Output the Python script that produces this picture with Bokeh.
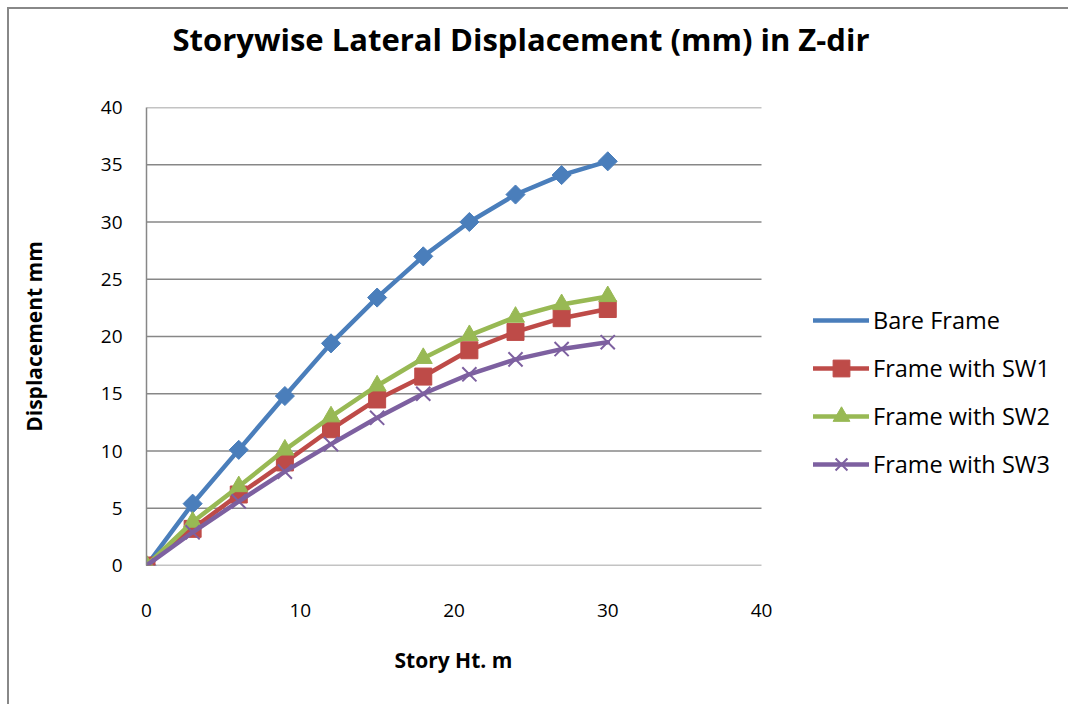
import numpy as np
from bokeh.plotting import figure
from bokeh.models import FixedTicker, Legend, LegendItem, Title, LinearAxis
from bokeh.embed import file_html
from bokeh.resources import INLINE

# ---- data ----
story_ht = [0, 3, 6, 9, 12, 15, 18, 21, 24, 27, 30]
bare_frame = [0, 5.4, 10.1, 14.8, 19.4, 23.4, 27.0, 30.0, 32.4, 34.1, 35.3]
frame_sw1 = [0, 3.2, 6.2, 9.0, 11.9, 14.5, 16.5, 18.8, 20.4, 21.6, 22.4]
frame_sw2 = [0, 3.8, 6.9, 10.1, 13.0, 15.7, 18.1, 20.1, 21.7, 22.8, 23.5]
frame_sw3 = [0, 2.9, 5.6, 8.2, 10.6, 12.9, 15.0, 16.7, 18.0, 18.9, 19.5]
series_names = ["Bare Frame", "Frame with SW1", "Frame with SW2", "Frame with SW3"]
x_ticks = [0, 10, 20, 30, 40]
y_ticks = [0, 5, 10, 15, 20, 25, 30, 35, 40]

title_text = "Storywise Lateral Displacement (mm) in Z-dir"
x_label = "Story Ht. m"
y_label = "Displacement mm"

FONT = "Open Sans"
GRID = "#878787"

# layout: canvas starts at page (9, 9); plot area for 0..40 spans 615 px;
# the frame extends further right so the legend can sit beside the data.
W, H = 1061, 697
BL, BT = 137, 98
BB = H - 556
frame_w = W - BL
data_w = 615
x_end = x_ticks[-1] * frame_w / data_w

p = figure(width=W, height=H, x_range=(x_ticks[0], x_end), y_range=(y_ticks[0], y_ticks[-1]),
           output_backend="svg", toolbar_location=None,
           min_border_left=BL, min_border_right=0,
           min_border_top=BT, min_border_bottom=BB)
p.margin = (9, 0, 0, 9)
p.styles = {"box-shadow": "-2px -2px 0px 0px #888888"}
p.outline_line_color = None
p.background_fill_color = "white"
p.border_fill_color = "white"

# invisible spacer between frame and title (one blank tick, long tick extent)
spacer = LinearAxis(ticker=FixedTicker(ticks=[x_ticks[0]]), axis_line_color=None,
                    major_tick_line_color=None, minor_tick_line_color=None,
                    major_tick_out=48, major_tick_in=0, major_label_standoff=0,
                    major_label_overrides={x_ticks[0]: ""},
                    major_label_text_font_size="2px")
p.add_layout(spacer, "above")

t = Title(text=title_text, align="left", offset=26, standoff=0,
          text_font=FONT, text_font_size="31px", text_font_style="bold",
          text_color="black")
p.add_layout(t, "above")

xa = p.below[0]
ya = p.left[0]
xa.ticker = FixedTicker(ticks=x_ticks)
ya.ticker = FixedTicker(ticks=y_ticks)
p.xgrid.grid_line_color = None
p.ygrid.grid_line_color = None

for ax in (xa, ya):
    ax.major_tick_line_color = None
    ax.minor_tick_line_color = None
    ax.major_label_text_font = FONT
    ax.major_label_text_font_size = "19px"
    ax.major_label_text_color = "black"
    ax.axis_label_text_font = FONT
    ax.axis_label_text_font_size = "21px"
    ax.axis_label_text_font_style = "bold"
    ax.axis_label_text_color = "black"

ya.axis_label = y_label
xa.axis_line_color = None
ya.axis_line_color = GRID
ya.axis_line_width = 1.5
xa.major_label_standoff = 32
ya.major_label_standoff = 18
ya.axis_label_standoff = 50

# x-axis title, centred under the data area
xt = Title(text=x_label, align="left", offset=248, standoff=48,
           text_font=FONT, text_font_size="21px", text_font_style="bold",
           text_color="black")
p.add_layout(xt, "below")

# horizontal gridlines across the data area only
n = len(y_ticks)
p.segment(x0=[x_ticks[0]] * n, y0=y_ticks, x1=[x_ticks[-1]] * n, y1=y_ticks,
          line_color=GRID, line_width=1.5)

colors = ["#4A7EBB", "#BE4B48", "#98B954", "#7D60A0"]
values = [bare_frame, frame_sw1, frame_sw2, frame_sw3]
items = []

for i, (name, ys, c) in enumerate(zip(series_names, values, colors)):
    ln = p.line(story_ht, ys, line_color=c, line_width=4.5, line_join="round", line_cap="round")
    if i == 0:
        # diamonds drawn as rotated squares; legend uses a diamond swatch
        p.scatter(story_ht, ys, marker="square", size=13.5, angle=np.pi / 4,
                  fill_color=c, line_color=c)
        mk = p.scatter(x=[], y=[], marker="diamond", size=20, fill_color=c, line_color=c)
    elif i == 1:
        mk = p.scatter(story_ht, ys, marker="square", size=17, fill_color=c, line_color=c)
    elif i == 2:
        mk = p.scatter(story_ht, ys, marker="triangle", size=18, fill_color=c, line_color=c)
    else:
        mk = p.scatter(story_ht, ys, marker="x", size=20, line_color=c, line_width=2)
    items.append(LegendItem(label=name, renderers=[ln, mk]))

legend = Legend(items=items, location=(667, 80), orientation="vertical",
                glyph_width=56, glyph_height=42, label_height=42, spacing=6,
                label_standoff=4, padding=0, margin=0,
                border_line_color=None, background_fill_alpha=0,
                label_text_font=FONT, label_text_font_size="23.5px",
                label_text_color="black")
p.add_layout(legend, "center")

open("out.html", "w").write(file_html(p, INLINE))
